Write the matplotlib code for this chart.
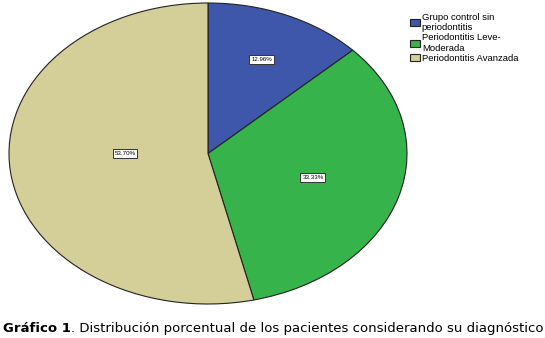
import matplotlib
matplotlib.use("Agg")
import matplotlib.pyplot as plt
import numpy as np

# patient groups (number of patients per diagnosis, n = 54)
labels = ["Grupo control sin\nperiodontitis",
          "Periodontitis Leve-\nModerada",
          "Periodontitis Avanzada"]
counts = [7, 18, 29]
colors = ["#3f57aa", "#36b44b", "#d4ce99"]
label_radius = [0.68, 0.55, 0.42]

fig = plt.figure(figsize=(5.45, 3.38), dpi=100)
ax = fig.add_axes([9 / 545, 34 / 338, 398 / 545, 301 / 338])

wedges, texts, autotexts = ax.pie(
    counts, colors=colors, startangle=90, counterclock=False,
    autopct="%.2f%%", radius=1.0,
    wedgeprops=dict(edgecolor="#222222", linewidth=0.8),
    textprops=dict(fontsize=4.4, family="Liberation Sans"))

# push each percentage label to its own distance from the centre
for w, t, r in zip(wedges, autotexts, label_radius):
    ang = np.deg2rad((w.theta1 + w.theta2) / 2)
    x, y = r * np.cos(ang), r * np.sin(ang)
    if x < -0.3:
        y = 0.0  # big slice: keep its label level with the centre
    t.set_position((x, y))
    t.set_bbox(dict(boxstyle="square,pad=0.3", facecolor="white",
                    edgecolor="#333333", linewidth=0.7))

ax.set_aspect("auto")
ax.set_xlim(-1.0, 1.0)
ax.set_ylim(-1.0, 1.0)
ax.axis("off")

fig.legend(wedges, labels, loc="upper left",
           bbox_to_anchor=(403 / 545, 1 - 6 / 338),
           frameon=False, prop=dict(family="Liberation Sans", size=6.8),
           handlelength=1.05, handleheight=0.75, handletextpad=0.25,
           labelspacing=0.15, borderpad=0.2)

# caption below the chart: bold lead followed by regular text
cap_y = 6 / 338
bold = fig.text(3 / 545, cap_y, "Gráfico 1", fontsize=9.5,
                fontweight="bold", family="DejaVu Sans", va="baseline")
fig.canvas.draw()
bb = bold.get_window_extent()
fig.text(bb.x1 / fig.bbox.width, cap_y,
         ". Distribución porcentual de los pacientes considerando su diagnóstico",
         fontsize=9.5, family="DejaVu Sans", va="baseline")

fig.savefig("out.png", dpi=100)
